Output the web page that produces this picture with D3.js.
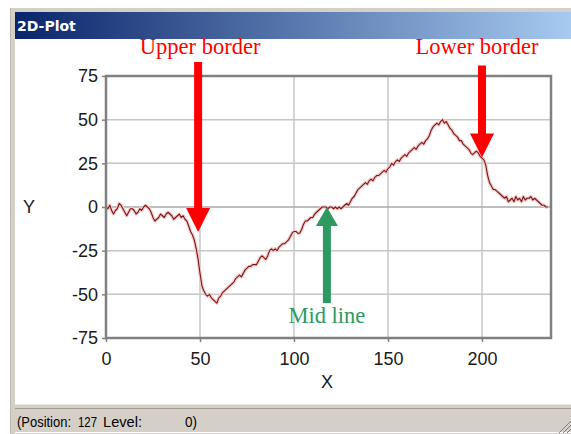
<!DOCTYPE html>
<html>
<head>
<meta charset="utf-8">
<script src="https://cdn.jsdelivr.net/npm/d3@7"></script>
<style>
  html, body { margin: 0; padding: 0; background: #ffffff; }
  svg { display: block; }
</style>
</head>
<body>
<div id="chart"></div>
<script>
// profile values, one per x step (0..235)
const levels = [
  0, -1, 1, -2, -4, -2, -1, 2, 1, -1, -3,
  -5, -3, -1, -1, -2, -4, -3, -1, -2, 0,
  1, 0, -1, -3, -6, -8, -7, -6, -4, -5,
  -6, -4, -3, -4, -5, -7, -6, -5, -4, -6,
  -5, -7, -8, -11, -14, -16, -19, -24, -30, -38,
  -45, -48, -50, -51, -50, -52, -53, -54, -55, -52,
  -51, -49, -48, -47, -46, -45, -44, -43, -41, -40,
  -39, -40, -38, -36, -35, -34, -34, -33, -33, -33,
  -31, -29, -28, -29, -30, -28, -25, -24, -25, -24,
  -25, -23, -22, -21, -21, -20, -19, -17, -15, -14,
  -14, -15, -15, -13, -10, -8, -8, -7, -6, -6,
  -4, -3, -2, -1, 0, 0, 0, -1, 0, 0,
  -1, 0, -1, 0, -1, 0, 1, 2, 1, 3,
  5, 6, 8, 10, 11, 12, 13, 14, 13, 15,
  16, 15, 17, 18, 18, 19, 20, 21, 20, 22,
  23, 25, 24, 26, 27, 26, 28, 29, 30, 29,
  31, 32, 33, 34, 33, 35, 36, 37, 36, 38,
  39, 41, 44, 46, 47, 48, 47, 49, 50, 48,
  49, 47, 45, 44, 42, 41, 40, 38, 38, 36,
  35, 34, 33, 31, 30, 31, 32, 31, 29, 28,
  27, 24, 18, 14, 12, 10, 10, 9, 8, 7,
  6, 5, 6, 3, 4, 5, 3, 6, 4, 5,
  3, 6, 4, 5, 5, 6, 4, 5, 4, 3,
  2, 1, 1, 0, 0
]

const xTicks = [0, 50, 100, 150, 200]
const yTicks = [-75, -50, -25, 0, 25, 50, 75]
const xMax = 236.7

const windowTitle = '2D-Plot'
const statusParts = ['(Position:', '127', 'Level:', '0)']

// annotation arrows: where they point, in data units
const markers = [
  { label: 'Upper border', x: 49, tip: -14.3, tail: 83, dir: 'down', color: '#ff0000' },
  { label: 'Lower border', x: 200, tip: 28.4, tail: 81, dir: 'down', color: '#ff0000' },
  { label: 'Mid line', x: 117.5, tip: 0, tail: -55, dir: 'up', color: '#2e9a62' }
]
const labelShift = [2, -5, 0]

const width = 571, height = 434

const svg = d3.select('#chart').append('svg')
    .attr('width', width)
    .attr('height', height)

// ---- window chrome ----
svg.append('rect').attr('x', 0).attr('y', 0).attr('width', width).attr('height', height).attr('fill', '#ffffff')
svg.append('rect').attr('x', 10).attr('y', 8).attr('width', width - 10).attr('height', 4).attr('fill', '#d4d0c8')
svg.append('rect').attr('x', 10).attr('y', 8).attr('width', 5).attr('height', height - 8).attr('fill', '#d4d0c8')
svg.append('line').attr('x1', 10.5).attr('x2', 10.5).attr('y1', 8).attr('y2', height).attr('stroke', '#bdb9b0')

const grad = svg.append('defs').append('linearGradient').attr('id', 'titlebar')
grad.append('stop').attr('offset', '0%').attr('stop-color', '#0a246a')
grad.append('stop').attr('offset', '100%').attr('stop-color', '#a6caf0')

svg.append('rect')
    .attr('x', 15).attr('y', 12)
    .attr('width', width - 15).attr('height', 27)
    .attr('fill', 'url(#titlebar)')

svg.append('text')
    .attr('x', 17).attr('y', 31)
    .attr('font-family', 'DejaVu Sans')
    .attr('font-weight', 'bold')
    .attr('font-size', 14)
    .attr('fill', '#ffffff')
    .text(windowTitle)

// status bar
svg.append('rect').attr('x', 15).attr('y', 404).attr('width', width - 15).attr('height', 30).attr('fill', '#d4d0c8')
svg.append('line').attr('x1', 15).attr('x2', width).attr('y1', 404.5).attr('y2', 404.5).attr('stroke', '#ece9e2')
svg.append('line').attr('x1', 15).attr('x2', width).attr('y1', 408.5).attr('y2', 408.5).attr('stroke', '#a09c94')
svg.append('line').attr('x1', 15).attr('x2', width).attr('y1', 432.5).attr('y2', 432.5).attr('stroke', '#ffffff')

const statusX = [17, 78, 103, 185]
const statusW = [54, 19, 39, 12]
svg.append('g')
    .attr('font-family', 'Liberation Sans')
    .attr('font-size', 15)
    .attr('fill', '#000000')
  .selectAll('text')
  .data(statusParts)
  .join('text')
    .attr('x', (d, i) => statusX[i])
    .attr('y', 427)
    .attr('textLength', (d, i) => statusW[i])
    .attr('lengthAdjust', 'spacingAndGlyphs')
    .text(d => d)

// resize grip
const grip = svg.append('g').attr('stroke', '#808080').attr('stroke-width', 1)
;[4, 8, 12].forEach(k => {
    grip.append('line').attr('x1', width - k).attr('y1', 433).attr('x2', width).attr('y2', 433 - k)
})

// ---- plot ----
const x = d3.scaleLinear()
    .domain([0, xMax])
    .range([106, 551])

const y = d3.scaleLinear()
    .domain([-75, 75])
    .range([338, 76])

// grid
svg.append('g')
    .attr('class', 'grid')
  .selectAll('line.v')
  .data(xTicks.filter(d => d > 0))
  .join('line')
    .attr('x1', d => x(d)).attr('x2', d => x(d))
    .attr('y1', y(75)).attr('y2', y(-75))
    .attr('stroke', '#c6c6c6')
    .attr('stroke-width', 1.5)

svg.append('g')
    .attr('class', 'grid')
  .selectAll('line.h')
  .data(yTicks.filter(d => d > -75 && d < 75))
  .join('line')
    .attr('x1', x(0)).attr('x2', x(xMax))
    .attr('y1', d => y(d)).attr('y2', d => y(d))
    .attr('stroke', d => d === 0 ? '#a8a8a8' : '#c6c6c6')
    .attr('stroke-width', 1.5)

// axes
const axisFont = g => g
    .attr('font-family', 'Liberation Sans')
    .attr('font-size', 18)
    .call(g => g.select('.domain').remove())
    .call(g => g.selectAll('.tick line').attr('stroke', '#808080').attr('stroke-width', 1.5))
    .call(g => g.selectAll('.tick text').attr('fill', '#1a1a1a'))

// plain hyphen for negatives, like the original
const plain = d => String(d)

svg.append('g')
    .attr('transform', `translate(${x(0)},0)`)
    .call(d3.axisLeft(y).tickValues(yTicks).tickFormat(plain).tickSize(4).tickPadding(4))
    .call(axisFont)

svg.append('g')
    .attr('transform', `translate(0,${y(-75)})`)
    .call(d3.axisBottom(x).tickValues(xTicks).tickFormat(plain).tickSize(4).tickPadding(10))
    .call(axisFont)

svg.append('text')
    .attr('x', 29).attr('y', y(0) + 6)
    .attr('text-anchor', 'middle')
    .attr('font-family', 'Liberation Sans')
    .attr('font-size', 18)
    .attr('fill', '#1a1a1a')
    .text('Y')

svg.append('text')
    .attr('x', 327).attr('y', 388)
    .attr('text-anchor', 'middle')
    .attr('font-family', 'Liberation Sans')
    .attr('font-size', 18)
    .attr('fill', '#1a1a1a')
    .text('X')

// the profile line
const line = d3.line()
    .x((d, i) => x(i))
    .y(d => y(d))

svg.append('path')
    .datum(levels)
    .attr('d', line)
    .attr('fill', 'none')
    .attr('stroke', '#f3c9c9')
    .attr('stroke-width', 3.5)
    .attr('stroke-linejoin', 'round')

svg.append('path')
    .datum(levels)
    .attr('d', line)
    .attr('fill', 'none')
    .attr('stroke', '#7c1616')
    .attr('stroke-width', 1.1)
    .attr('stroke-linejoin', 'round')

// frame over the plot
svg.append('rect')
    .attr('x', x(0)).attr('y', y(75))
    .attr('width', x(xMax) - x(0)).attr('height', y(-75) - y(75))
    .attr('fill', 'none')
    .attr('stroke', '#808080')
    .attr('stroke-width', 2.5)

// ---- annotation arrows ----
function arrowPath(m) {
    const cx = x(m.x)
    const tipY = y(m.tip)
    const tailY = y(m.tail)
    const s = m.dir === 'down' ? 1 : -1
    const headLen = m.dir === 'down' ? 24 : 19
    const headW = m.dir === 'down' ? 12 : 11
    const shaftW = 4
    const baseY = tipY - s * headLen
    return `M${cx - shaftW},${tailY} L${cx + shaftW},${tailY} L${cx + shaftW},${baseY}` +
        ` L${cx + headW},${baseY} L${cx},${tipY} L${cx - headW},${baseY} L${cx - shaftW},${baseY} Z`
}

const notes = svg.append('g').attr('class', 'markers')

notes.selectAll('path')
  .data(markers)
  .join('path')
    .attr('d', arrowPath)
    .attr('fill', d => d.color)

notes.selectAll('text')
  .data(markers)
  .join('text')
    .attr('x', (d, i) => x(d.x) + labelShift[i])
    .attr('y', d => d.dir === 'down' ? 54 : y(d.tail) + 20)
    .attr('text-anchor', 'middle')
    .attr('font-family', 'Liberation Serif')
    .attr('font-size', 22.5)
    .attr('fill', d => d.color)
    .text(d => d.label)
</script>
</body>
</html>
